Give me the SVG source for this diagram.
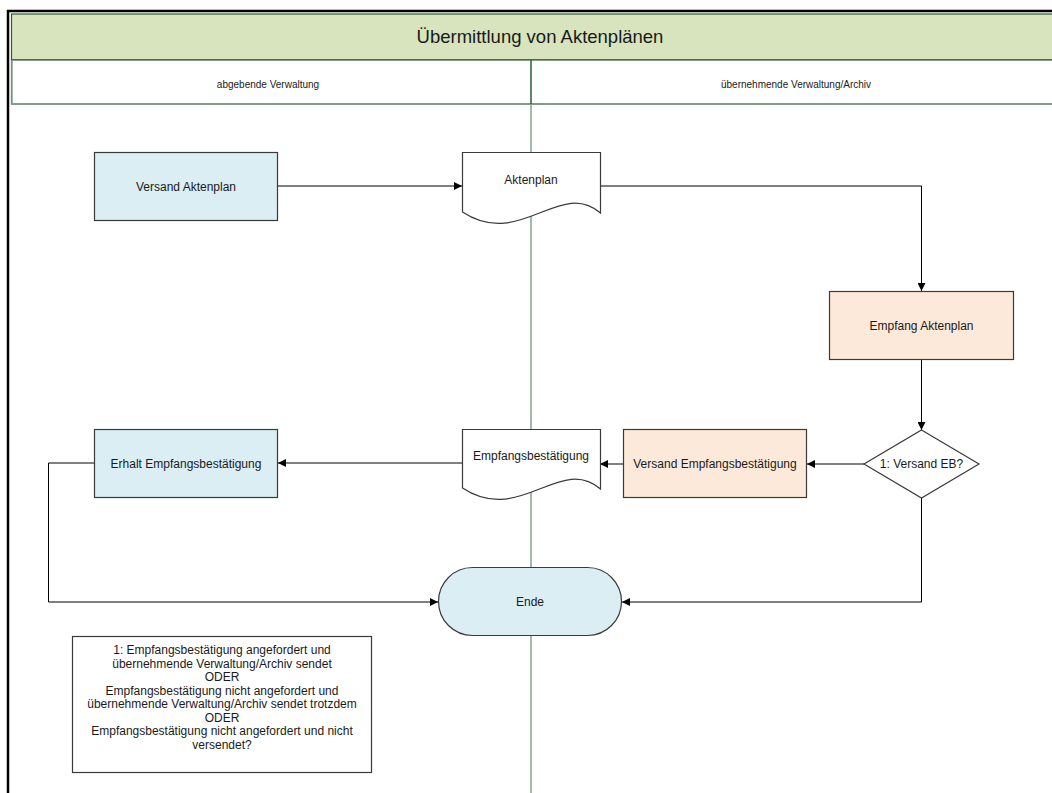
<svg xmlns="http://www.w3.org/2000/svg" width="1052" height="793" viewBox="0 0 1052 793">
  <defs>
    <marker id="arrow" viewBox="0 0 10 10" refX="10" refY="5" markerWidth="8" markerHeight="8" markerUnits="userSpaceOnUse" orient="auto">
      <path d="M0,0 L10,5 L0,10 z" fill="#000"/>
    </marker>
    <style>
      text { font-family: "Liberation Sans", Arial, sans-serif; fill: #1a1a1a; text-anchor: middle; }
      .title { font-size: 18.5px; }
      .lane { font-size: 10px; }
      .lbl { font-size: 12px; }
      .note { font-size: 12px; }
      .blue { fill: #dbeef3; stroke: #3a3a3a; stroke-width: 1.2; }
      .peach { fill: #fde9d9; stroke: #3a3a3a; stroke-width: 1.2; }
      .white { fill: #ffffff; stroke: #3a3a3a; stroke-width: 1.2; }
      .conn { fill: none; stroke: #000; stroke-width: 1; }
    </style>
  </defs>

  <rect width="1052" height="793" fill="#ffffff"/>

  <!-- pool frame and header -->
  <g id="pool">
    <line x1="7" y1="11" x2="1052" y2="11" stroke="#000" stroke-width="2.5"/>
    <line x1="8" y1="10" x2="8" y2="793" stroke="#000" stroke-width="2.5"/>
    <rect x="11.5" y="14" width="1060" height="46" fill="#d7e4bd" stroke="#2e5a3a" stroke-width="1.2"/>
    <rect x="11.5" y="60" width="1060" height="44" fill="#ffffff" stroke="#2e5a3a" stroke-width="1.2"/>
    <line x1="12" y1="60" x2="12" y2="104" stroke="#8aa597" stroke-width="1.5"/>
    <text class="title" x="540" y="43">Übermittlung von Aktenplänen</text>
  </g>

  <!-- lanes -->
  <g id="lanes">
    <line x1="531" y1="60" x2="531" y2="104" stroke="#2e5a3a" stroke-width="1.5"/>
    <line x1="531" y1="104" x2="531" y2="793" stroke="#86a090" stroke-width="1.5"/>
    <text class="lane" x="268" y="88">abgebende Verwaltung</text>
    <text class="lane" x="796" y="88">übernehmende Verwaltung/Archiv</text>
  </g>

  <!-- connectors -->
  <g id="connectors">
    <line class="conn" x1="278" y1="186" x2="462" y2="186" marker-end="url(#arrow)"/>
    <polyline class="conn" points="600,186 921.5,186 921.5,291" marker-end="url(#arrow)"/>
    <line class="conn" x1="921.5" y1="360" x2="921.5" y2="430" marker-end="url(#arrow)"/>
    <line class="conn" x1="864" y1="464" x2="807" y2="464" marker-end="url(#arrow)"/>
    <line class="conn" x1="623" y1="464" x2="600" y2="464" marker-end="url(#arrow)"/>
    <line class="conn" x1="462" y1="463" x2="278" y2="463" marker-end="url(#arrow)"/>
    <polyline class="conn" points="94,463 48.5,463 48.5,602 438,602" marker-end="url(#arrow)"/>
    <polyline class="conn" points="921.5,498 921.5,602 622,602" marker-end="url(#arrow)"/>
  </g>

  <g id="versand-aktenplan">
    <rect class="blue" x="94.5" y="152.5" width="183" height="68"/>
    <text class="lbl" x="186" y="191">Versand Aktenplan</text>
  </g>

  <g id="aktenplan">
    <path class="white" d="M462.5,152.5 H600.5 V213 C560,178 520,250 462.5,212 Z"/>
    <text class="lbl" x="531" y="184">Aktenplan</text>
  </g>

  <g id="empfang-aktenplan">
    <rect class="peach" x="829.5" y="291.5" width="184" height="68"/>
    <text class="lbl" x="921.5" y="330">Empfang Aktenplan</text>
  </g>

  <g id="versand-eb-decision">
    <polygon class="white" points="921.5,430 979,464 921.5,498 864,464"/>
    <text class="lbl" x="921.5" y="468">1: Versand EB?</text>
  </g>

  <g id="versand-empfangsbestaetigung">
    <rect class="peach" x="623.5" y="429.5" width="183" height="68"/>
    <text class="lbl" x="715" y="468">Versand Empfangsbestätigung</text>
  </g>

  <g id="empfangsbestaetigung">
    <path class="white" d="M462.5,429.5 H600.5 V489 C560,454 520,526 462.5,488 Z"/>
    <text class="lbl" x="531" y="460">Empfangsbestätigung</text>
  </g>

  <g id="erhalt-empfangsbestaetigung">
    <rect class="blue" x="94.5" y="429.5" width="183" height="68"/>
    <text class="lbl" x="186" y="468">Erhalt Empfangsbestätigung</text>
  </g>

  <g id="ende">
    <rect class="blue" x="438.5" y="567.5" width="183" height="68" rx="34" ry="34"/>
    <text class="lbl" x="530" y="606">Ende</text>
  </g>

  <g id="note">
    <rect x="72.5" y="636.5" width="299" height="136" fill="#ffffff" stroke="#3a3a3a" stroke-width="1.2"/>
    <text class="note" x="222" y="654">1: Empfangsbestätigung angefordert und</text>
    <text class="note" x="222" y="668">übernehmende Verwaltung/Archiv sendet</text>
    <text class="note" x="222" y="681">ODER</text>
    <text class="note" x="222" y="695">Empfangsbestätigung nicht angefordert und</text>
    <text class="note" x="222" y="708">übernehmende Verwaltung/Archiv sendet trotzdem</text>
    <text class="note" x="222" y="722">ODER</text>
    <text class="note" x="222" y="735">Empfangsbestätigung nicht angefordert und nicht</text>
    <text class="note" x="222" y="749">versendet?</text>
  </g>
</svg>
